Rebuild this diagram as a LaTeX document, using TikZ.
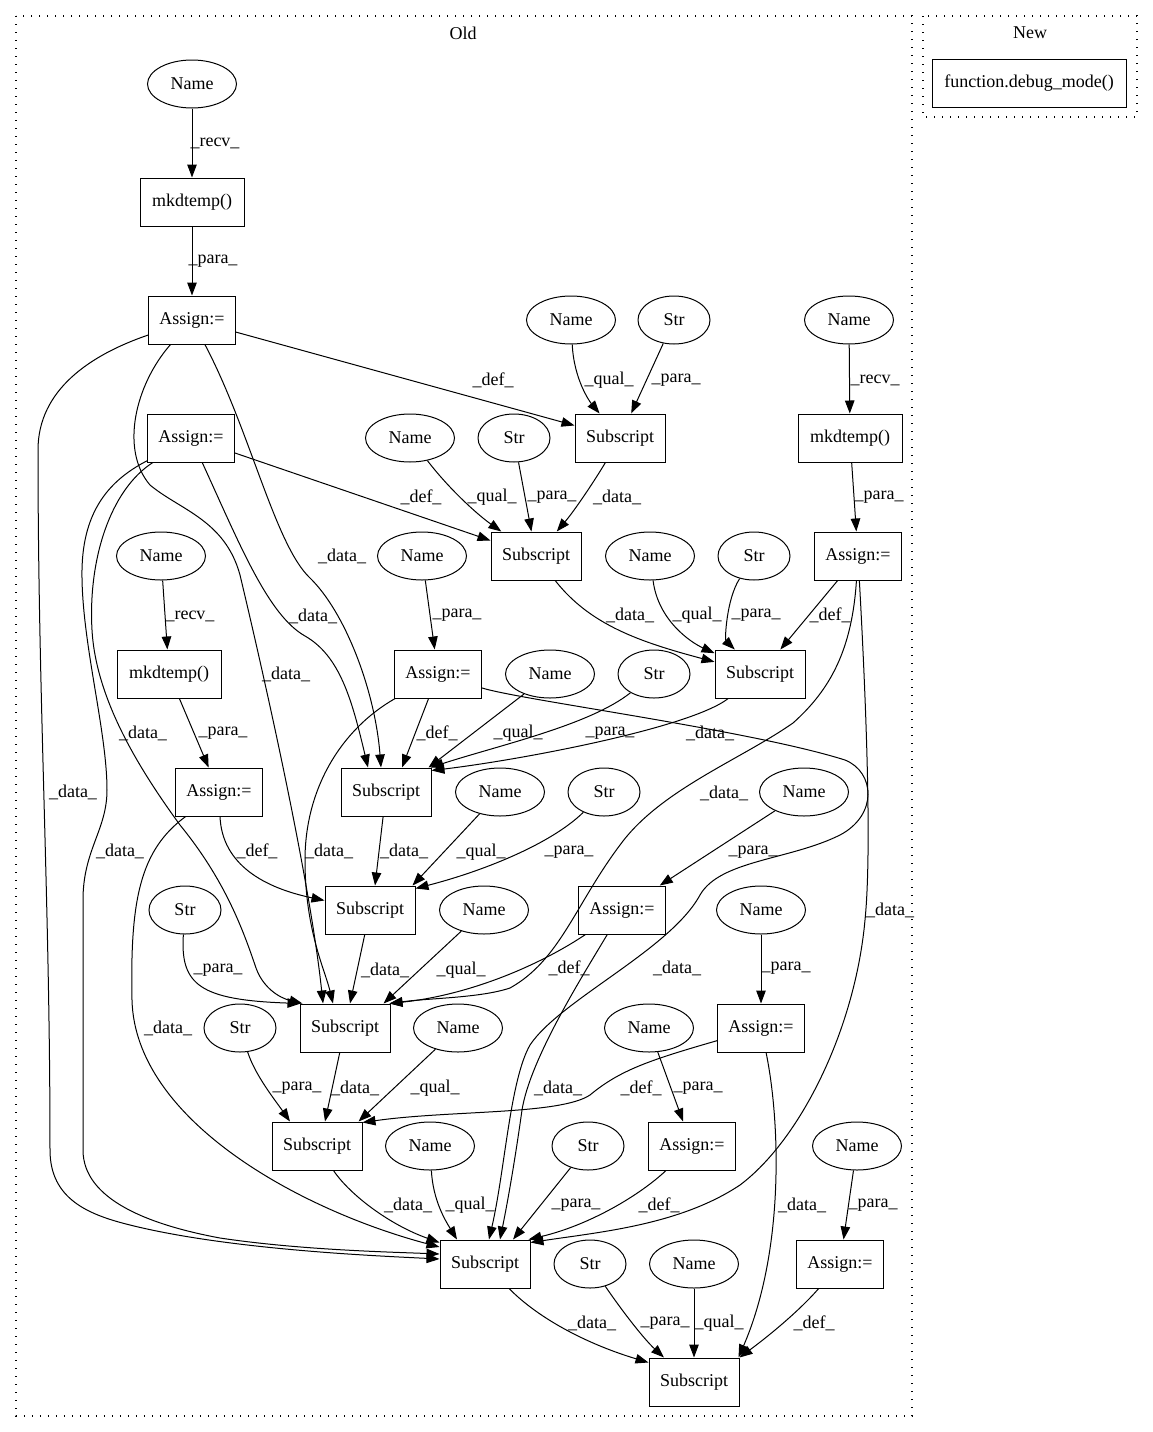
\documentclass[tikz,border=0pt]{standalone}
\usepackage{fontspec}
\setmainfont{Liberation Serif}
\usetikzlibrary{arrows.meta,shapes.geometric}

\tikzset{
  base/.style={draw, line width=1pt, inner sep=0pt, font=\fontsize{18}{20}\selectfont},
  nameell/.style={base, ellipse, minimum width=89pt, minimum height=48pt},
  strell/.style={base, ellipse, minimum width=72pt, minimum height=48pt},
  subsbox/.style={base, rectangle, minimum width=90pt, minimum height=48pt},
  asgbox/.style={base, rectangle, minimum width=87pt, minimum height=48pt},
  callbox/.style={base, rectangle, minimum width=104pt, minimum height=48pt},
  flow/.style={line width=1pt, -{Triangle[length=13pt,width=9.5pt]}},
  lbl/.style={font=\fontsize{18}{20}\selectfont, inner sep=0pt},
  cluster/.style={line width=1.4pt, dash pattern=on 1.4pt off 6.6pt}
}

\begin{document}
\begin{tikzpicture}[x=1pt,y=-1pt]
\useasboundingbox (0,0) rectangle (1152,1432);

% clusters
\draw[cluster] (16,16) rectangle (912,1416);
\node[lbl] (old) at (463,33) {Old};
\draw[cluster] (923,16) rectangle (1137,117);
\node[lbl] (new) at (1030,33) {New};
\node[base, rectangle, minimum width=194pt, minimum height=48pt] (fn) at (1029,83) {function.debug\_mode()};

% nodes
\node[nameell] (n1) at (192,84) {Name};
\node[callbox] (m1) at (192,202) {mkdtemp()};
\node[asgbox] (a1) at (192,320) {Assign:=};
\node[nameell] (n2) at (571,320) {Name};
\node[strell] (s1) at (674,320) {Str};
\node[nameell] (n3) at (849,320) {Name};
\node[asgbox] (a2) at (191,438) {Assign:=};
\node[nameell] (n4) at (410,438) {Name};
\node[strell] (s2) at (514,438) {Str};
\node[subsbox] (sub1) at (620,438) {Subscript};
\node[callbox] (m2) at (850,438) {mkdtemp()};
\node[nameell] (n5) at (161,556) {Name};
\node[nameell] (n6) at (422,556) {Name};
\node[subsbox] (sub2) at (536,556) {Subscript};
\node[nameell] (n7) at (650,556) {Name};
\node[strell] (s3) at (754,556) {Str};
\node[asgbox] (a3) at (858,556) {Assign:=};
\node[callbox] (m3) at (169,674) {mkdtemp()};
\node[asgbox] (a4) at (438,674) {Assign:=};
\node[nameell] (n8) at (550,674) {Name};
\node[strell] (s4) at (654,674) {Str};
\node[subsbox] (sub3) at (760,674) {Subscript};
\node[asgbox] (a5) at (219,792) {Assign:=};
\node[subsbox] (sub4) at (386,792) {Subscript};
\node[nameell] (n9) at (500,792) {Name};
\node[strell] (s5) at (604,792) {Str};
\node[nameell] (n10) at (804,792) {Name};
\node[strell] (s6) at (185,910) {Str};
\node[subsbox] (sub5) at (370,910) {Subscript};
\node[nameell] (n11) at (484,910) {Name};
\node[asgbox] (a6) at (622,910) {Assign:=};
\node[nameell] (n12) at (761,910) {Name};
\node[strell] (s7) at (240,1028) {Str};
\node[subsbox] (sub6) at (345,1028) {Subscript};
\node[nameell] (n13) at (458,1028) {Name};
\node[nameell] (n14) at (649,1028) {Name};
\node[asgbox] (a7) at (761,1028) {Assign:=};
\node[subsbox] (sub7) at (317,1146) {Subscript};
\node[nameell] (n15) at (430,1146) {Name};
\node[strell] (s8) at (588,1146) {Str};
\node[asgbox] (a8) at (692,1146) {Assign:=};
\node[nameell] (n16) at (857,1146) {Name};
\node[subsbox] (sub8) at (485,1264) {Subscript};
\node[strell] (s9) at (590,1264) {Str};
\node[nameell] (n17) at (694,1264) {Name};
\node[asgbox] (a9) at (840,1264) {Assign:=};
\node[subsbox] (sub9) at (694,1382) {Subscript};

% calls and assignments
\path[draw,flow] (n1) -- (m1) node[lbl] at (215,143) {\_recv\_};
\path[draw,flow] (m1) -- (a1) node[lbl] at (213,261) {\_para\_};
\path[draw,flow] (n3) -- (m2) node[lbl] at (875,380) {\_recv\_};
\path[draw,flow] (m2) -- (a3) node[lbl] at (879,497) {\_para\_};
\path[draw,flow] (n5) -- (m3) node[lbl] at (190,616) {\_recv\_};
\path[draw,flow] (m3) -- (a5) node[lbl] at (223,733) {\_para\_};
\path[draw,flow] (n6) -- (a4) node[lbl] at (457,615) {\_para\_};
\path[draw,flow] (n10) -- (a6) node[lbl] at (753,852) {\_para\_};
\path[draw,flow] (n12) -- (a7) node[lbl] at (786,968) {\_para\_};
\path[draw,flow] (n14) -- (a8) node[lbl] at (698,1088) {\_para\_};
\path[draw,flow] (n16) -- (a9) node[lbl] at (873,1205) {\_para\_};

% sub1, sub2, sub3
\path[draw,flow] (a1) -- (sub1) node[lbl] at (493,380) {\_def\_};
\path[draw,flow] (n2) .. controls (574,380) and (590,402) .. (sub1) node[lbl] at (609,380) {\_qual\_};
\path[draw,flow] (s1) -- (sub1) node[lbl] at (676,380) {\_para\_};
\path[draw,flow] (a2) -- (sub2) node[lbl] at (421,497) {\_def\_};
\path[draw,flow] (n4) .. controls (450,490) and (478,515) .. (sub2) node[lbl] at (492,497) {\_qual\_};
\path[draw,flow] (s2) -- (sub2) node[lbl] at (552,497) {\_para\_};
\path[draw,flow] (sub1) .. controls (595,480) and (575,510) .. (sub2) node[lbl] at (617,497) {\_data\_};
\path[draw,flow] (sub2) .. controls (590,625) and (640,642) .. (sub3) node[lbl] at (630,615) {\_data\_};
\path[draw,flow] (n7) .. controls (658,620) and (690,642) .. (sub3) node[lbl] at (697,615) {\_qual\_};
\path[draw,flow] (s3) .. controls (726,600) and (725,640) .. (sub3) node[lbl] at (756,615) {\_para\_};
\path[draw,flow] (a3) -- (sub3) node[lbl] at (830,615) {\_def\_};

% sub4
\path[draw,flow] (a1) .. controls (250,430) and (275,545) .. (310,578)
  .. controls (345,612) and (375,690) .. ([xshift=-5pt]sub4.north) node[lbl] at (342,556) {\_data\_};
\path[draw,flow] (a2) .. controls (240,545) and (268,615) .. (305,636)
  .. controls (340,656) and (352,700) .. ([xshift=-18pt]sub4.north) node[lbl] at (313,616) {\_data\_};
\path[draw,flow] (a4) -- ([xshift=16pt]sub4.north) node[lbl] at (437,733) {\_def\_};
\path[draw,flow] (n8) -- ([xshift=-3pt]sub4.north east) node[lbl] at (518,733) {\_qual\_};
\path[draw,flow] (s4) .. controls (590,725) and (500,745) .. ([xshift=-1pt]sub4.north east) node[lbl] at (610,733) {\_para\_};
\path[draw,flow] (sub3) .. controls (690,728) and (520,760) .. ([yshift=-3pt]sub4.north east) node[lbl] at (710,733) {\_data\_};

% sub5
\path[draw,flow] (sub4) -- ([xshift=5pt]sub5.north) node[lbl] at (404,851) {\_data\_};
\path[draw,flow] (a5) .. controls (222,865) and (265,888) .. (sub5) node[lbl] at (257,851) {\_def\_};
\path[draw,flow] (n9) -- ([xshift=-3pt]sub5.north east) node[lbl] at (481,852) {\_qual\_};
\path[draw,flow] (s5) .. controls (550,845) and (480,872) .. ([yshift=-3pt]sub5.north east) node[lbl] at (569,852) {\_para\_};

% sub6
\path[draw,flow] (s6) .. controls (180,985) and (200,1000) .. ([xshift=1pt]sub6.north west) node[lbl] at (218,970) {\_para\_};
\path[draw,flow] (a2) .. controls (110,490) and (88,560) .. (92,630)
  .. controls (96,700) and (140,770) .. (180,825)
  .. controls (225,880) and (243,930) .. (255,965)
  .. controls (262,988) and (280,998) .. ([xshift=3pt]sub6.north west) node[lbl] at (143,733) {\_data\_};
\path[draw,flow] (a1) .. controls (135,385) and (120,450) .. (150,485)
  .. controls (180,510) and (225,520) .. (240,575)
  .. controls (265,680) and (310,880) .. ([xshift=-22pt]sub6.north) node[lbl] at (286,674) {\_data\_};
\path[draw,flow] (a4) .. controls (340,730) and (305,790) .. (305,860)
  .. controls (305,930) and (325,970) .. ([xshift=-12pt]sub6.north) node[lbl] at (329,851) {\_data\_};
\path[draw,flow] (sub5) -- ([xshift=5pt]sub6.north) node[lbl] at (385,970) {\_data\_};
\path[draw,flow] (n11) -- ([xshift=-7pt]sub6.north east) node[lbl] at (461,970) {\_qual\_};
\path[draw,flow] (a6) .. controls (540,965) and (470,995) .. ([xshift=-1pt]sub6.north east) node[lbl] at (569,968) {\_def\_};
\path[draw,flow] (a3) .. controls (852,650) and (830,690) .. (793,723)
  .. controls (740,760) and (660,790) .. (620,845)
  .. controls (575,905) and (560,960) .. (510,988)
  .. controls (480,998) and (430,998) .. ([xshift=-1pt]sub6.north east) node[lbl] at (724,793) {\_data\_};

% sub7
\path[draw,flow] (s7) .. controls (255,1075) and (275,1100) .. ([xshift=-27pt]sub7.north) node[lbl] at (297,1088) {\_para\_};
\path[draw,flow] (sub6) -- ([xshift=8pt]sub7.north) node[lbl] at (355,1088) {\_data\_};
\path[draw,flow] (n13) -- ([xshift=-4pt]sub7.north east) node[lbl] at (435,1088) {\_qual\_};
\path[draw,flow] (a7) .. controls (650,1060) and (620,1070) .. (590,1095)
  .. controls (560,1115) and (450,1110) .. ([yshift=-1pt]sub7.north east) node[lbl] at (641,1088) {\_def\_};

% sub8
\path[draw,flow] (a1) .. controls (90,355) and (38,390) .. (38,450)
  .. controls (38,700) and (50,900) .. (50,1150)
  .. controls (50,1200) and (90,1215) .. (130,1225)
  .. controls (230,1250) and (380,1256) .. ([yshift=5pt]sub8.west) node[lbl] at (73,792) {\_data\_};
\path[draw,flow] (a2) .. controls (110,480) and (83,510) .. (82,570)
  .. controls (81,640) and (107,730) .. (107,790)
  .. controls (107,830) and (83,850) .. (83,900)
  -- (83,1150)
  .. controls (83,1200) and (150,1225) .. (220,1238)
  .. controls (300,1250) and (390,1252) .. ([yshift=10pt]sub8.west) node[lbl] at (120,851) {\_data\_};
\path[draw,flow] (a5) .. controls (140,850) and (130,900) .. (132,1000)
  .. controls (135,1120) and (300,1210) .. ([yshift=17pt]sub8.west) node[lbl] at (168,1028) {\_data\_};
\path[draw,flow] (sub7) .. controls (350,1195) and (390,1225) .. ([yshift=-3pt]sub8.north west) node[lbl] at (408,1205) {\_data\_};
\path[draw,flow] (n15) .. controls (433,1200) and (445,1220) .. ([xshift=-28pt]sub8.north) node[lbl] at (470,1205) {\_qual\_};
\path[draw,flow] (a4) .. controls (520,700) and (750,730) .. (845,760)
  .. controls (875,772) and (878,815) .. (840,835)
  .. controls (790,860) and (720,860) .. (700,895)
  .. controls (670,950) and (560,1000) .. (530,1045)
  .. controls (510,1080) and (505,1170) .. ([xshift=4pt]sub8.north) node[lbl] at (677,968) {\_data\_};
\path[draw,flow] (a6) .. controls (580,980) and (530,1060) .. (522,1110)
  .. controls (515,1160) and (508,1200) .. ([xshift=15pt]sub8.north) node[lbl] at (558,1088) {\_data\_};
\path[draw,flow] (s8) -- ([xshift=28pt]sub8.north) node[lbl] at (576,1205) {\_para\_};
\path[draw,flow] (a8) .. controls (640,1195) and (590,1225) .. ([xshift=-2pt]sub8.north east) node[lbl] at (659,1205) {\_def\_};
\path[draw,flow] (a3) .. controls (866,700) and (872,850) .. (865,920)
  .. controls (855,1030) and (800,1140) .. (740,1185)
  .. controls (680,1225) and (600,1232) .. ([yshift=-3pt]sub8.north east) node[lbl] at (890,910) {\_data\_};

% sub9
\path[draw,flow] (sub8) .. controls (540,1320) and (590,1345) .. ([yshift=-5pt]sub9.north west) node[lbl] at (592,1323) {\_data\_};
\path[draw,flow] (s9) .. controls (625,1315) and (645,1340) .. ([xshift=-30pt]sub9.north) node[lbl] at (665,1323) {\_para\_};
\path[draw,flow] (n17) -- (sub9) node[lbl] at (719,1323) {\_qual\_};
\path[draw,flow] (a7) .. controls (780,1120) and (785,1250) .. ([xshift=-1pt]sub9.north east) node[lbl] at (802,1205) {\_data\_};
\path[draw,flow] (a9) .. controls (800,1310) and (770,1335) .. (sub9.north east) node[lbl] at (814,1323) {\_def\_};
\end{tikzpicture}
\end{document}
